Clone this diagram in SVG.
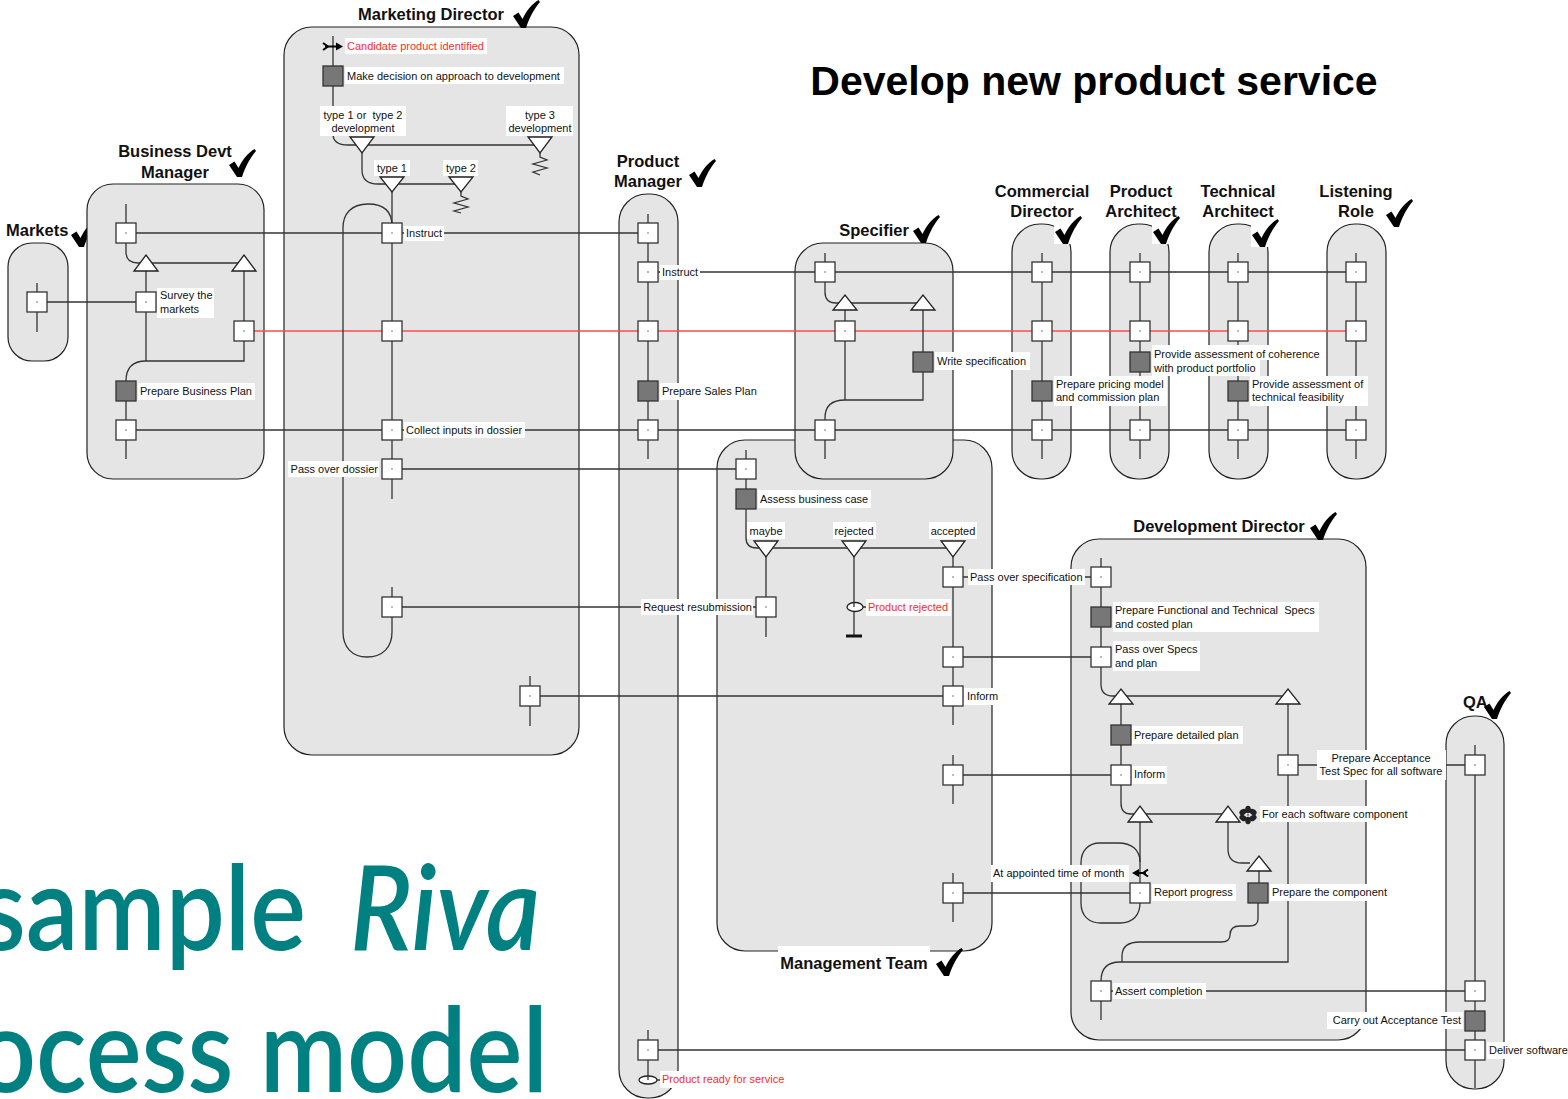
<svg xmlns="http://www.w3.org/2000/svg" xmlns:xlink="http://www.w3.org/1999/xlink" width="1568" height="1099" viewBox="0 0 1568 1099">
<style>
.lane{fill:#e5e5e5;stroke:#222;stroke-width:1.2}
.ln{fill:none;stroke:#333;stroke-width:1.3}
.red{stroke:#ff4a4a}
.box{fill:#fff;stroke:#333;stroke-width:1.3}
.act{fill:#777;stroke:#333;stroke-width:1.3}
.tri{fill:#fff;stroke:#222;stroke-width:1.3}
.bg{fill:#fff}
.lbl{font-family:"Liberation Sans",Arial,sans-serif;font-size:11px;fill:#111}
.rt{fill:#ff2a2a}
.mid{text-anchor:middle}
.end{text-anchor:end}
.hd{font-family:"Liberation Sans",Arial,sans-serif;font-weight:bold;font-size:16.5px;fill:#111}
.wm{font-family:Lato,"Open Sans",sans-serif;font-size:118px;font-weight:600;fill:#008080}
</style>
<defs>
<g id="bx"><rect x="-10" y="-10" width="20" height="20" class="box"/><circle r="0.7" fill="#444"/></g>
<rect id="ac" x="-10" y="-10" width="20" height="20" class="act"/>
<path id="chk" d="M0,16 L5.5,12.5 L9.5,19 C13.5,10.5 19,4 25.5,0 L27,2 C21.5,8.5 16.5,17 13,28 L8,28 Z" fill="#000"/>
</defs>
<rect width="1568" height="1099" fill="#fff"/>

<!-- watermark -->
<g id="watermark">
<text class="wm" x="-20" y="950" textLength="326" lengthAdjust="spacingAndGlyphs">sample</text>
<text class="wm" x="350" y="950" font-style="italic" textLength="190" lengthAdjust="spacingAndGlyphs">Riva</text>
<text class="wm" x="-24" y="1092" textLength="572" lengthAdjust="spacingAndGlyphs">ocess model</text>
</g>

<text x="1094" y="95" text-anchor="middle" font-family="Liberation Sans,Arial,sans-serif" font-weight="bold" font-size="41" fill="#000">Develop new product service</text>

<!-- lanes -->
<g id="lanes">
<g id="lane-marketing-director"><rect class="lane" x="284" y="27" width="295" height="728" rx="28"/>
<text class="hd mid" x="431" y="20">Marketing Director</text><use href="#chk" x="513" y="0"/></g>
<g id="lane-markets"><rect class="lane" x="8" y="243" width="60" height="118" rx="24"/>
<text class="hd" x="6" y="236">Markets</text><use href="#chk" x="71" y="219"/></g>
<g id="lane-business-devt-manager"><rect class="lane" x="87" y="184" width="177" height="295" rx="26"/>
<text class="hd mid" x="175" y="157">Business Devt</text><text class="hd mid" x="175" y="178">Manager</text><use href="#chk" x="229" y="149"/></g>
<g id="lane-product-manager"><rect class="lane" x="619" y="194" width="59" height="904" rx="28"/>
<text class="hd mid" x="648" y="167">Product</text><text class="hd mid" x="648" y="187">Manager</text><use href="#chk" x="689" y="159"/></g>
<g id="lane-management-team"><rect class="lane" x="717" y="440" width="275" height="511" rx="28"/>
<rect class="bg" x="778" y="946" width="152" height="34"/>
<text class="hd mid" x="854" y="969">Management Team</text><use href="#chk" x="936" y="948"/></g>
<g id="lane-specifier"><rect class="lane" x="795" y="243" width="158" height="236" rx="28"/>
<text class="hd mid" x="874" y="236">Specifier</text><use href="#chk" x="913" y="215"/></g>
<g id="lane-commercial-director"><rect class="lane" x="1012" y="224" width="59" height="255" rx="28"/>
<text class="hd mid" x="1042" y="197">Commercial</text><text class="hd mid" x="1042" y="217">Director</text>
<rect class="bg" x="1054" y="217" width="29" height="27"/><use href="#chk" x="1055" y="216"/></g>
<g id="lane-product-architect"><rect class="lane" x="1110" y="224" width="59" height="255" rx="28"/>
<text class="hd mid" x="1141" y="197">Product</text><text class="hd mid" x="1141" y="217">Architect</text>
<rect class="bg" x="1152" y="217" width="29" height="27"/><use href="#chk" x="1153" y="216"/></g>
<g id="lane-technical-architect"><rect class="lane" x="1209" y="224" width="59" height="255" rx="28"/>
<text class="hd mid" x="1238" y="197">Technical</text><text class="hd mid" x="1238" y="217">Architect</text>
<rect class="bg" x="1251" y="220" width="29" height="27"/><use href="#chk" x="1252" y="219"/></g>
<g id="lane-listening-role"><rect class="lane" x="1327" y="224" width="59" height="255" rx="28"/>
<text class="hd mid" x="1356" y="197">Listening</text><text class="hd mid" x="1356" y="217">Role</text><use href="#chk" x="1386" y="199"/></g>
<g id="lane-development-director"><rect class="lane" x="1071" y="539" width="295" height="501" rx="28"/>
<text class="hd mid" x="1219" y="532">Development Director</text><use href="#chk" x="1310" y="512"/></g>
<g id="lane-qa"><rect class="lane" x="1446" y="716" width="58" height="373" rx="28"/>
<text class="hd" x="1463" y="708">QA</text><use href="#chk" x="1484" y="691"/></g>
</g>

<!-- connectors -->
<g id="connectors">
<path class="ln" d="M37,302 L146,302"/>
<path class="ln" d="M126,233 L648,233"/>
<path class="ln" d="M648,272 L1356,272"/>
<path class="ln red" d="M244,331 L1356,331"/>
<path class="ln" d="M126,430 L1356,430"/>
<path class="ln" d="M392,469 L746,469"/>
<path class="ln" d="M392,607 L766,607"/>
<path class="ln" d="M530,696 L953,696"/>
<path class="ln" d="M953,577 L1101,577"/>
<path class="ln" d="M953,657 L1101,657"/>
<path class="ln" d="M953,775 L1121,775"/>
<path class="ln" d="M953,893 L1140,893"/>
<path class="ln" d="M1288,765 L1475,765"/>
<path class="ln" d="M1101,991 L1475,991"/>
<path class="ln" d="M648,1050 L1475,1050"/>
<path class="ln" d="M37,283 L37,332"/>
<path class="ln" d="M126,204 L126,252 Q126,263 138,263 L244,263"/>
<path class="ln" d="M146,263 L146,361"/>
<path class="ln" d="M244,263 L244,361 L146,361 Q126,361 126,381 L126,459"/>
<path class="ln" d="M333,36 L333,134 Q333,145 348,145 L540,145"/>
<path class="ln" d="M362,153 L362,170 Q362,184 378,184 L461,184"/>
<path class="ln" d="M392,192 L392,499"/>
<path class="ln" d="M540,153 L540,157 L547,160 L533,164 L547,168 L533,172 L540,175"/>
<path class="ln" d="M461,192 L461,196 L468,199 L454,203 L468,207 L454,211 L461,213"/>
<path class="ln" d="M392,226 C392,212 384,204 368,204 C351,204 343,214 343,228 L343,632 C343,647 352,657 367,657 C383,657 392,647 392,632 L392,587"/>
<path class="ln" d="M530,676 L530,726"/>
<path class="ln" d="M648,214 L648,459"/>
<path class="ln" d="M648,1030 L648,1080"/>
<path class="ln" d="M825,253 L825,292 Q825,303 836,303 L923,303"/>
<path class="ln" d="M845,303 L845,400"/>
<path class="ln" d="M923,303 L923,400 L845,400 Q825,400 825,418 L825,459"/>
<path class="ln" d="M1042,253 L1042,459"/>
<path class="ln" d="M1140,253 L1140,459"/>
<path class="ln" d="M1238,253 L1238,459"/>
<path class="ln" d="M1356,253 L1356,459"/>
<path class="ln" d="M746,450 L746,538 Q746,548 757,548 L953,548"/>
<path class="ln" d="M766,557 L766,637"/>
<path class="ln" d="M854,557 L854,636"/>
<path d="M846,636 L862,636" stroke="#111" stroke-width="3"/>
<path class="ln" d="M953,557 L953,725"/>
<path class="ln" d="M953,755 L953,804"/>
<path class="ln" d="M953,873 L953,922"/>
<path class="ln" d="M1101,558 L1101,684 Q1101,696 1113,696 L1288,696"/>
<path class="ln" d="M1121,704 L1121,803 Q1121,814 1131,814 L1228,814"/>
<path class="ln" d="M1140,822 L1140,903"/>
<path class="ln" d="M1140,862 C1140,850 1132,843 1118,843 L1100,843 C1088,843 1081,851 1081,863 L1081,903 C1081,916 1089,923 1101,923 L1120,923 C1133,923 1140,915 1140,903"/>
<path class="ln" d="M1288,704 L1288,962 L1120,962 Q1101,962 1101,981 L1101,1020"/>
<path class="ln" d="M1228,822 L1228,849 Q1228,863 1242,863 L1250,863"/>
<path class="ln" d="M1259,871 L1259,883"/>
<path class="ln" d="M1258,903 L1258,919 Q1258,926 1249,926 L1240,926 Q1230,926 1230,935 Q1230,942 1221,942 L1140,942 Q1122,942 1122,956 L1122,962"/>
<path class="ln" d="M1475,745 L1475,1088"/>
</g>

<g id="markets-nodes"><use href="#bx" x="37" y="302"/></g>

<g id="bdm-nodes">
<polygon class="tri" points="134,271 158,271 146,255"/>
<polygon class="tri" points="232,271 256,271 244,255"/>
<use href="#bx" x="126" y="233"/>
<use href="#bx" x="146" y="302"/>
<use href="#bx" x="244" y="331"/>
<use href="#ac" x="126" y="391"/>
<use href="#bx" x="126" y="430"/>
<rect class="bg" x="157" y="288" width="57" height="30"/>
<text class="lbl" x="160" y="299">Survey the</text><text class="lbl" x="160" y="313">markets</text>
<rect class="bg" x="138" y="383" width="117" height="17"/>
<text class="lbl" x="140" y="395">Prepare Business Plan</text>
</g>

<g id="md-nodes">
<path d="M323,43 L328,46.5 L323,50" fill="none" stroke="#000" stroke-width="2"/>
<path d="M325,46.5 L338,46.5" stroke="#000" stroke-width="2"/>
<polygon points="336,42.5 343,46.5 336,50.5" fill="#000"/>
<rect class="bg" x="345" y="38" width="142" height="16"/>
<text class="lbl rt" x="347" y="50">Candidate product identified</text>
<use href="#ac" x="333" y="76"/>
<rect class="bg" x="345" y="67" width="219" height="17"/>
<text class="lbl" x="347" y="80">Make decision on approach to development</text>
<rect class="bg" x="320" y="106" width="86" height="30"/>
<text class="lbl mid" x="363" y="119" xml:space="preserve">type 1 or  type 2</text>
<text class="lbl mid" x="363" y="132">development</text>
<rect class="bg" x="506" y="106" width="67" height="30"/>
<text class="lbl mid" x="540" y="119">type 3</text>
<text class="lbl mid" x="540" y="132">development</text>
<polygon class="tri" points="350,137 374,137 362,153"/>
<polygon class="tri" points="528,137 552,137 540,153"/>
<rect class="bg" x="374" y="160" width="36" height="16"/>
<text class="lbl mid" x="392" y="172">type 1</text>
<rect class="bg" x="443" y="160" width="35" height="16"/>
<text class="lbl mid" x="461" y="172">type 2</text>
<polygon class="tri" points="380,177 404,177 392,192"/>
<polygon class="tri" points="449,177 473,177 461,192"/>
<use href="#bx" x="392" y="233"/>
<rect class="bg" x="404" y="226" width="40" height="15"/>
<text class="lbl" x="406" y="237">Instruct</text>
<use href="#bx" x="392" y="331"/>
<use href="#bx" x="392" y="430"/>
<rect class="bg" x="404" y="422" width="121" height="16"/>
<text class="lbl" x="406" y="434">Collect inputs in dossier</text>
<use href="#bx" x="392" y="469"/>
<rect class="bg" x="288" y="461" width="91" height="16"/>
<text class="lbl end" x="378" y="473">Pass over dossier</text>
<use href="#bx" x="392" y="607"/>
<use href="#bx" x="530" y="696"/>
</g>

<g id="pm-nodes">
<use href="#bx" x="648" y="233"/>
<use href="#bx" x="648" y="272"/>
<rect class="bg" x="660" y="265" width="40" height="15"/>
<text class="lbl" x="662" y="276">Instruct</text>
<use href="#bx" x="648" y="331"/>
<use href="#ac" x="648" y="391"/>
<rect class="bg" x="660" y="383" width="98" height="17"/>
<text class="lbl" x="662" y="395">Prepare Sales Plan</text>
<use href="#bx" x="648" y="430"/>
<use href="#bx" x="648" y="1050"/>
<ellipse cx="648" cy="1080" rx="9" ry="4" fill="#fff" stroke="#222" stroke-width="1.3"/>
<path class="ln" d="M648,1076 L648,1080 M657,1080 L661,1080"/>
<rect class="bg" x="660" y="1071" width="126" height="17"/>
<text class="lbl rt" x="662" y="1083">Product ready for service</text>
</g>

<g id="specifier-nodes">
<polygon class="tri" points="833,310 857,310 845,295"/>
<polygon class="tri" points="911,310 935,310 923,295"/>
<use href="#bx" x="825" y="272"/>
<use href="#bx" x="845" y="331"/>
<use href="#ac" x="923" y="362"/>
<rect class="bg" x="935" y="352" width="95" height="18"/>
<text class="lbl" x="937" y="365">Write specification</text>
<use href="#bx" x="825" y="430"/>
</g>

<g id="cd-nodes">
<use href="#bx" x="1042" y="272"/><use href="#bx" x="1042" y="331"/>
<use href="#ac" x="1042" y="391"/><use href="#bx" x="1042" y="430"/>
<rect class="bg" x="1054" y="376" width="113" height="30"/>
<text class="lbl" x="1056" y="388">Prepare pricing model</text>
<text class="lbl" x="1056" y="401">and commission plan</text>
</g>

<g id="pa-nodes">
<use href="#bx" x="1140" y="272"/><use href="#bx" x="1140" y="331"/>
<use href="#ac" x="1140" y="362"/><use href="#bx" x="1140" y="430"/>
<rect class="bg" x="1152" y="345" width="170" height="15"/>
<rect class="bg" x="1152" y="360" width="108" height="16"/>
<text class="lbl" x="1154" y="358">Provide assessment of coherence</text>
<text class="lbl" x="1154" y="372">with product portfolio</text>
</g>

<g id="ta-nodes">
<use href="#bx" x="1238" y="272"/><use href="#bx" x="1238" y="331"/>
<use href="#ac" x="1238" y="391"/><use href="#bx" x="1238" y="430"/>
<rect class="bg" x="1250" y="376" width="118" height="30"/>
<text class="lbl" x="1252" y="388">Provide assessment of</text>
<text class="lbl" x="1252" y="401">technical feasibility</text>
</g>

<g id="lr-nodes">
<use href="#bx" x="1356" y="272"/><use href="#bx" x="1356" y="331"/><use href="#bx" x="1356" y="430"/>
</g>

<g id="mt-nodes">
<use href="#bx" x="746" y="469"/>
<use href="#ac" x="746" y="499"/>
<rect class="bg" x="758" y="490" width="113" height="18"/>
<text class="lbl" x="760" y="503">Assess business case</text>
<rect class="bg" x="747" y="522" width="38" height="17"/>
<text class="lbl mid" x="766" y="535">maybe</text>
<rect class="bg" x="833" y="522" width="43" height="17"/>
<text class="lbl mid" x="854" y="535">rejected</text>
<rect class="bg" x="929" y="522" width="48" height="17"/>
<text class="lbl mid" x="953" y="535">accepted</text>
<polygon class="tri" points="754,541 778,541 766,557"/>
<polygon class="tri" points="842,541 866,541 854,557"/>
<polygon class="tri" points="941,541 965,541 953,557"/>
<use href="#bx" x="953" y="577"/>
<rect class="bg" x="968" y="569" width="117" height="16"/>
<text class="lbl" x="970" y="581">Pass over specification</text>
<use href="#bx" x="766" y="607"/>
<rect class="bg" x="641" y="599" width="112" height="16"/>
<text class="lbl end" x="752" y="611">Request resubmission</text>
<ellipse cx="855" cy="607" rx="8" ry="4.5" fill="#fff" stroke="#222" stroke-width="1.3"/>
<path class="ln" d="M854,602.5 L854,607 M863,607 L867,607"/>
<rect class="bg" x="866" y="599" width="85" height="17"/>
<text class="lbl rt" x="868" y="611">Product rejected</text>
<use href="#bx" x="953" y="657"/>
<use href="#bx" x="953" y="696"/>
<rect class="bg" x="964" y="688" width="35" height="17"/>
<text class="lbl" x="967" y="700">Inform</text>
<use href="#bx" x="953" y="775"/>
<use href="#bx" x="953" y="893"/>
</g>

<g id="dd-nodes">
<use href="#bx" x="1101" y="577"/>
<use href="#ac" x="1101" y="617"/>
<rect class="bg" x="1113" y="602" width="206" height="30"/>
<text class="lbl" x="1115" y="614" xml:space="preserve">Prepare Functional and Technical  Specs</text>
<text class="lbl" x="1115" y="628">and costed plan</text>
<use href="#bx" x="1101" y="657"/>
<rect class="bg" x="1113" y="641" width="87" height="30"/>
<text class="lbl" x="1115" y="653">Pass over Specs</text>
<text class="lbl" x="1115" y="667">and plan</text>
<polygon class="tri" points="1109,704 1133,704 1121,689"/>
<polygon class="tri" points="1276,704 1300,704 1288,689"/>
<use href="#ac" x="1121" y="735"/>
<rect class="bg" x="1132" y="726" width="111" height="18"/>
<text class="lbl" x="1134" y="739">Prepare detailed plan</text>
<use href="#bx" x="1121" y="775"/>
<rect class="bg" x="1132" y="766" width="35" height="18"/>
<text class="lbl" x="1134" y="778">Inform</text>
<use href="#bx" x="1288" y="765"/>
<rect class="bg" x="1317" y="750" width="129" height="30"/>
<text class="lbl mid" x="1381" y="762">Prepare Acceptance</text>
<text class="lbl mid" x="1381" y="775">Test Spec for all software</text>
<polygon class="tri" points="1128,822 1152,822 1140,806"/>
<polygon class="tri" points="1216,822 1240,822 1228,806"/>
<g id="replicate" fill="#222">
<ellipse cx="1248" cy="809.5" rx="2.8" ry="3.8"/>
<ellipse cx="1248" cy="820.5" rx="2.8" ry="3.8"/>
<ellipse cx="1243" cy="812" rx="3.8" ry="2.8" transform="rotate(-30 1243 812)"/>
<ellipse cx="1253" cy="812" rx="3.8" ry="2.8" transform="rotate(30 1253 812)"/>
<ellipse cx="1243" cy="818" rx="3.8" ry="2.8" transform="rotate(30 1243 818)"/>
<ellipse cx="1253" cy="818" rx="3.8" ry="2.8" transform="rotate(-30 1253 818)"/>
<circle cx="1248" cy="815" r="1.2" fill="#888"/>
</g>
<rect class="bg" x="1260" y="806" width="152" height="16"/>
<text class="lbl" x="1262" y="818">For each software component</text>
<polygon class="tri" points="1247,871 1271,871 1259,856"/>
<rect class="bg" x="991" y="865" width="138" height="17"/>
<text class="lbl" x="993" y="877">At appointed time of month</text>
<path d="M1148,869.5 L1143,873 L1148,876.5" fill="none" stroke="#000" stroke-width="2"/>
<path d="M1137,873 L1146,873" stroke="#000" stroke-width="2"/>
<polygon points="1139,869 1132,873 1139,877" fill="#000"/>
<use href="#bx" x="1140" y="893"/>
<rect class="bg" x="1152" y="884" width="84" height="17"/>
<text class="lbl" x="1154" y="896">Report progress</text>
<use href="#ac" x="1258" y="893"/>
<rect class="bg" x="1270" y="884" width="120" height="17"/>
<text class="lbl" x="1272" y="896">Prepare the component</text>
<use href="#bx" x="1101" y="991"/>
<rect class="bg" x="1113" y="983" width="93" height="16"/>
<text class="lbl" x="1115" y="995">Assert completion</text>
</g>

<g id="qa-nodes">
<use href="#bx" x="1475" y="765"/>
<use href="#bx" x="1475" y="991"/>
<use href="#ac" x="1475" y="1021"/>
<rect class="bg" x="1327" y="1012" width="136" height="17"/>
<text class="lbl end" x="1461" y="1024">Carry out Acceptance Test</text>
<use href="#bx" x="1475" y="1050"/>
<rect class="bg" x="1487" y="1042" width="81" height="17"/>
<text class="lbl" x="1489" y="1054">Deliver software</text>
</g>
</svg>
